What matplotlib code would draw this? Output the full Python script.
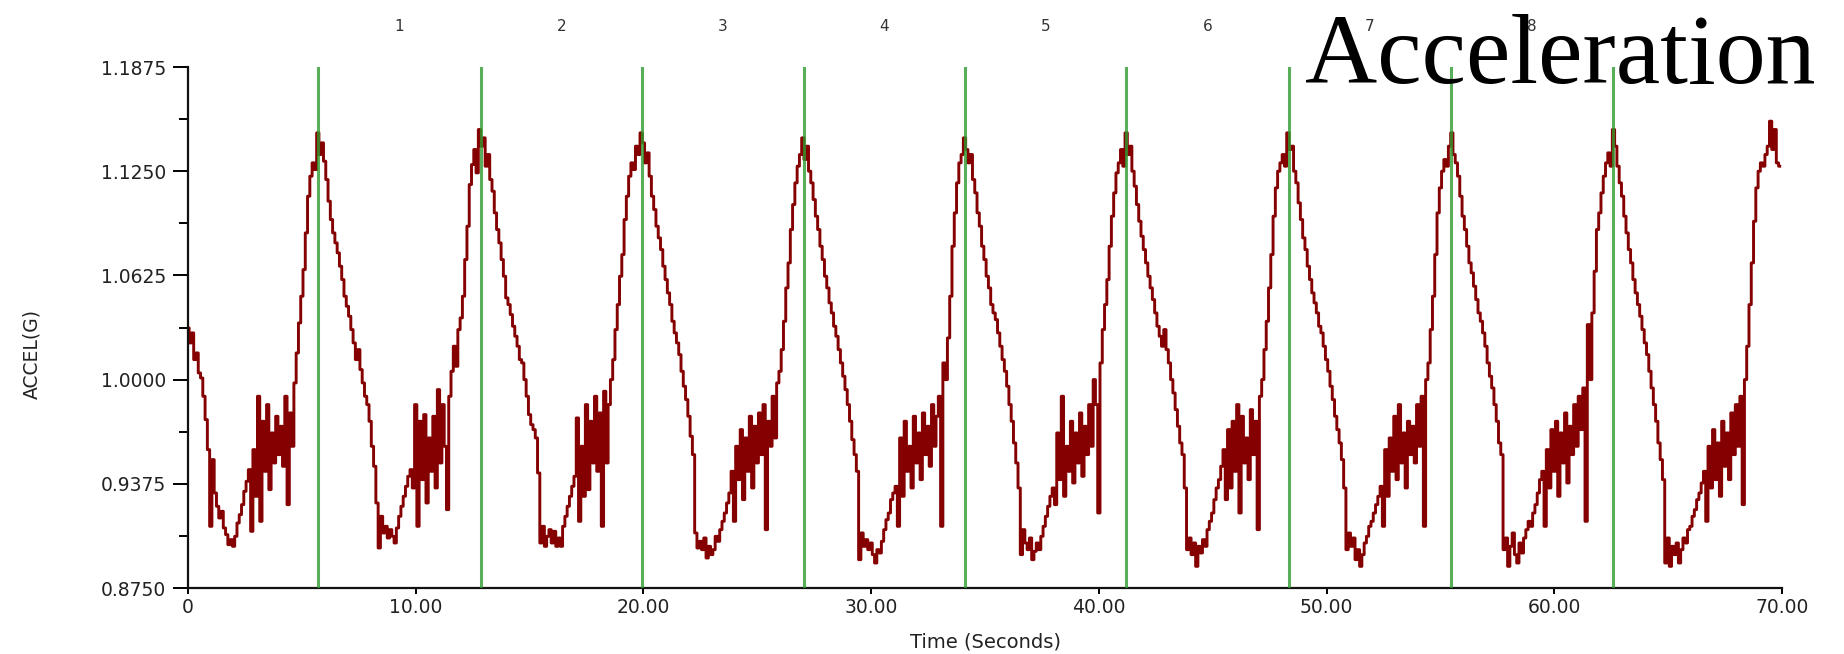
import numpy as np
import matplotlib
matplotlib.use("Agg")
import matplotlib.pyplot as plt
from matplotlib.ticker import FixedLocator, MultipleLocator
import matplotlib.transforms as mtransforms

# ---- data (acceleration in milli-G, one value per 0.1 s) ----
SAMPLE_INTERVAL = 0.1
ACCEL_MG = [
    1031, 1022, 1028, 1012, 1016, 1004, 1001, 990, 976, 958,
    912, 952, 932, 924, 917, 921, 911, 907, 901, 904,
    900, 906, 914, 919, 925, 933, 939, 946, 909, 958,
    930, 990, 915, 975, 945, 985, 934, 968, 950, 978,
    955, 972, 948, 990, 925, 980, 960, 998, 1016, 1034,
    1050, 1066, 1088, 1110, 1122, 1130, 1126, 1148, 1135, 1142,
    1131, 1120, 1107, 1096, 1088, 1082, 1076, 1068, 1060, 1050,
    1044, 1038, 1030, 1022, 1012, 1018, 1006, 998, 990, 985,
    975, 960, 948, 926, 899, 918, 908, 912, 905, 910,
    906, 902, 911, 918, 924, 930, 936, 942, 946, 935,
    985, 912, 975, 940, 979, 926, 965, 945, 978, 935,
    994, 950, 985, 960, 922, 990, 1005, 1020, 1008, 1030,
    1037, 1050, 1072, 1092, 1117, 1129, 1138, 1124, 1150, 1140,
    1145, 1128, 1135, 1120, 1113, 1100, 1090, 1082, 1072, 1062,
    1049, 1045, 1039, 1032, 1026, 1020, 1012, 1010, 1000, 990,
    979, 973, 970, 965, 944, 902, 912, 900, 906, 910,
    902, 909, 900, 905, 900, 912, 918, 924, 930, 936,
    942, 977, 915, 960, 930, 985, 934, 975, 950, 990,
    945, 980, 912, 993, 950, 985, 1000, 1012, 1030, 1045,
    1062, 1075, 1096, 1110, 1122, 1130, 1126, 1140, 1135, 1148,
    1142, 1130, 1136, 1122, 1110, 1102, 1092, 1085, 1078, 1068,
    1060, 1052, 1045, 1035, 1028, 1022, 1015, 1005, 996, 988,
    978, 966, 955, 908, 899, 903, 898, 905, 893, 900,
    895, 898, 906, 903, 910, 915, 920, 926, 932, 945,
    915, 960, 940, 970, 928, 965, 945, 978, 935, 972,
    950, 980, 955, 985, 910, 975, 960, 990, 965, 998,
    1005, 1018, 1035, 1055, 1070, 1090, 1105, 1118, 1128, 1135,
    1145, 1132, 1140, 1125, 1118, 1108, 1098, 1090, 1080, 1072,
    1062, 1055, 1046, 1040, 1032, 1026, 1018, 1010, 1002, 994,
    985, 975, 964, 955, 945, 892, 908, 900, 904, 898,
    902, 895, 890, 898, 896, 903, 910, 916, 920, 928,
    932, 936, 912, 965, 930, 975, 945, 960, 935, 978,
    950, 968, 940, 980, 955, 972, 948, 985, 960, 978,
    990, 912, 1010, 1000, 1025, 1050, 1080, 1100, 1118, 1130,
    1135, 1145, 1138, 1130, 1135, 1120, 1112, 1100, 1092, 1080,
    1072, 1062, 1055, 1045, 1040, 1036, 1028, 1020, 1012, 1005,
    996, 985, 975, 962, 950, 935, 895, 910, 902, 898,
    905, 892, 897, 902, 898, 906, 912, 918, 924, 930,
    935, 925, 968, 940, 990, 930, 960, 945, 975, 938,
    968, 950, 980, 942, 972, 955, 985, 960, 1000, 985,
    920, 1010, 1030, 1045, 1060, 1080, 1098, 1112, 1124, 1130,
    1138, 1128, 1148, 1135, 1140, 1125, 1116, 1105, 1095, 1086,
    1078, 1070, 1062, 1055, 1048, 1040, 1032, 1026, 1020, 1030,
    1018, 1010, 1000, 992, 982, 972, 962, 955, 935, 898,
    905, 895, 902, 888, 900, 896, 904, 900, 910, 915,
    920, 928, 935, 940, 948, 958, 928, 970, 935, 975,
    945, 985, 920, 978, 950, 965, 940, 982, 955, 975,
    910, 990, 1000, 1018, 1035, 1055, 1075, 1098, 1115, 1125,
    1130, 1135, 1128, 1148, 1138, 1140, 1125, 1118, 1106, 1096,
    1085, 1078, 1068, 1060, 1052, 1046, 1040, 1032, 1028, 1020,
    1012, 1005, 996, 988, 978, 970, 962, 952, 935, 898,
    908, 900, 905, 892, 898, 888, 895, 902, 906, 912,
    915, 920, 925, 930, 936, 912, 958, 930, 965, 945,
    978, 940, 985, 950, 968, 935, 975, 955, 972, 950,
    985, 960, 990, 912, 1000, 1010, 1030, 1050, 1075, 1100,
    1115, 1125, 1132, 1128, 1140, 1148, 1135, 1130, 1122, 1110,
    1098, 1090, 1080, 1070, 1064, 1056, 1048, 1040, 1035, 1028,
    1020, 1010, 1002, 995, 985, 975, 962, 955, 898, 905,
    888, 900, 908, 895, 890, 902, 896, 905, 910, 915,
    912, 920, 925, 932, 940, 945, 912, 958, 935, 970,
    945, 975, 930, 968, 950, 980, 938, 972, 955, 985,
    960, 990, 970, 995, 915, 1033, 1000, 1040, 1065, 1090,
    1100, 1112, 1122, 1130, 1136, 1128, 1150, 1140, 1128, 1118,
    1110, 1098, 1088, 1078, 1070, 1060, 1052, 1045, 1038, 1030,
    1022, 1015, 1005, 995, 985, 975, 962, 952, 940, 890,
    905, 888, 900, 895, 902, 890, 898, 905, 902, 910,
    912, 918, 922, 928, 932, 938, 945, 915, 960, 935,
    970, 940, 962, 930, 975, 948, 968, 940, 980, 955,
    985, 960, 990, 925, 1000, 1020, 1045, 1070, 1095, 1115,
    1125, 1130, 1128, 1135, 1140, 1155, 1138, 1150, 1130, 1128,
]

PEAK_TIMES = [5.7, 12.85, 19.95, 27.05, 34.1, 41.2, 48.35, 55.45, 62.6]
CYCLE_LABELS = ["1", "2", "3", "4", "5", "6", "7", "8"]

Y_TICKS = [0.8750, 0.9375, 1.0000, 1.0625, 1.1250, 1.1875]
X_TICKS = [0, 10, 20, 30, 40, 50, 60, 70]
X_TICK_LABELS = ["0", "10.00", "20.00", "30.00", "40.00", "50.00", "60.00", "70.00"]

# ---- figure ----
W, H = 1844, 654
fig = plt.figure(figsize=(W / 100, H / 100), dpi=100)
fig.patch.set_facecolor("white")
left, right, top, bottom = 188, 1782, 67, 588
ax = fig.add_axes([left / W, 1 - bottom / H, (right - left) / W, (bottom - top) / H])

accel = np.array(ACCEL_MG) / 1000.0
time = np.arange(len(accel)) * SAMPLE_INTERVAL

ax.plot(time, accel, drawstyle="steps-mid", color="#850000", lw=2.1, zorder=2)

for p in PEAK_TIMES:
    ax.axvline(p, color="#2f9a2f", lw=2.2, alpha=0.8, zorder=3)

fig.text(1305 / W, 1 - 83 / H, "Acceleration", family="Liberation Serif",
         fontsize=72, color="black", ha="left", va="baseline", zorder=1)

# cycle numbers between green lines, above the plot
trans = mtransforms.blended_transform_factory(ax.transData, ax.transAxes)
for i, lab in enumerate(CYCLE_LABELS):
    xm = (PEAK_TIMES[i] + PEAK_TIMES[i + 1]) / 2
    ax.text(xm, 1.078, lab, transform=trans, ha="center", va="center",
            fontsize=11, color="#333333", family="DejaVu Sans", clip_on=False,
            zorder=5)

ax.set_xlim(0, 70)
ax.set_ylim(0.875, 1.1875)

ax.yaxis.set_major_locator(FixedLocator(Y_TICKS))
ax.set_yticklabels([f"{v:.4f}" for v in Y_TICKS])
ax.yaxis.set_minor_locator(MultipleLocator(0.03125))
ax.xaxis.set_major_locator(FixedLocator(X_TICKS))
ax.set_xticklabels(X_TICK_LABELS)

for s in ["top", "right"]:
    ax.spines[s].set_visible(False)
for s in ["left", "bottom"]:
    ax.spines[s].set_linewidth(1.6)
    ax.spines[s].set_color("#111111")

ax.tick_params(axis="y", which="major", length=11, width=1.4, pad=5,
               labelsize=13.5, labelcolor="#222222", direction="out")
ax.tick_params(axis="y", which="minor", length=6.5, width=1.4, direction="out")
ax.tick_params(axis="x", which="major", length=4.5, width=1.4, pad=3,
               labelsize=13.5, labelcolor="#222222", direction="out")

ax.set_ylabel("ACCEL(G)", fontsize=13.5, color="#222222")
ax.yaxis.set_label_coords(-0.092, 0.45)
ax.set_xlabel("Time (Seconds)", fontsize=14, color="#222222", labelpad=11)

fig.savefig("out.png", dpi=100, facecolor="white")
